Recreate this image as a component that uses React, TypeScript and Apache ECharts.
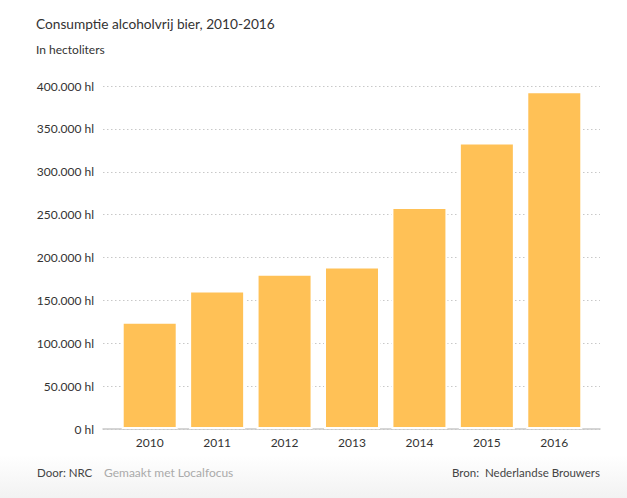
import React, { useEffect, useRef } from "react";
import * as echarts from "echarts";

const years = ["2010", "2011", "2012", "2013", "2014", "2015", "2016"];
const consumption = [125000, 161500, 181000, 189500, 259000, 334000, 394000];
const yTicks = [0, 50000, 100000, 150000, 200000, 250000, 300000, 350000, 400000];

const FONT = "Lato, 'Open Sans', sans-serif";

function fmt(v: number): string {
  if (v === 0) return "0 hl";
  const s = Math.round(v).toString().replace(/\B(?=(\d{3})+(?!\d))/g, ".");
  return s + " hl";
}

export default function App() {
  const ref = useRef<HTMLDivElement>(null);
  useEffect(() => {
    document.body.style.margin = "0";
    const chart = echarts.init(ref.current!, null, { renderer: "svg" });
    const top = 86;
    const bottom = 69;
    chart.setOption({
      animation: false,
      backgroundColor: "#ffffff",
      textStyle: { fontFamily: FONT },
      graphic: [
        {
          type: "rect",
          shape: { x: 0, y: 455, width: 627, height: 43 },
          style: {
            fill: new echarts.graphic.LinearGradient(0, 0, 0, 1, [
              { offset: 0, color: "#ffffff" },
              { offset: 1, color: "#f2f2f2" },
            ]),
          },
          z: -10,
        },
        {
          type: "text",
          left: 36,
          top: 16,
          style: { text: "Consumptie alcoholvrij bier, 2010-2016", fontSize: 13.7, fill: "#333", fontFamily: FONT },
        },
        {
          type: "text",
          left: 36,
          top: 43,
          style: { text: "In hectoliters", fontSize: 12, fill: "#333", fontFamily: FONT },
        },
        {
          type: "text",
          left: 37,
          top: 466,
          style: { text: "Door: NRC", fontSize: 11.5, fill: "#444", fontFamily: FONT },
        },
        {
          type: "text",
          left: 104,
          top: 466,
          style: { text: "Gemaakt met Localfocus", fontSize: 12, fill: "#aaa", fontFamily: FONT },
        },
        {
          type: "text",
          right: 27,
          top: 466,
          style: { text: "Bron:  Nederlandse Brouwers", fontSize: 11.5, fill: "#444", fontFamily: FONT },
        },
      ],
      grid: [
        { left: 103, right: 27, top, bottom },
        { left: 116, right: 39, top, bottom },
      ],
      xAxis: [
        {
          type: "category",
          gridIndex: 0,
          data: years,
          axisLine: { show: true, lineStyle: { color: "#c8c8c8", width: 1.5 } },
          axisTick: { show: false },
          axisLabel: { show: false },
        },
        {
          type: "category",
          gridIndex: 1,
          data: years,
          axisLine: { show: false },
          axisTick: { show: false },
          axisLabel: { color: "#333", fontSize: 12, margin: 7, fontFamily: FONT },
        },
      ],
      yAxis: [
        {
          type: "value",
          gridIndex: 0,
          min: 0,
          max: 400000,
          interval: 50000,
          axisLine: { show: false },
          axisTick: { show: false },
          axisLabel: {
            color: "#333",
            fontSize: 12,
            margin: 9,
            fontFamily: FONT,
            formatter: (v: number) => (yTicks.includes(v) ? fmt(v) : ""),
          },
          splitLine: { show: true, lineStyle: { color: "#c8c8c8", type: [1.5, 2.5], width: 1 } },
        },
        {
          type: "value",
          gridIndex: 1,
          min: 0,
          max: 400000,
          interval: 50000,
          axisLine: { show: false },
          axisTick: { show: false },
          axisLabel: { show: false },
          splitLine: { show: false },
        },
      ],
      series: [
        {
          type: "bar",
          xAxisIndex: 1,
          yAxisIndex: 1,
          data: consumption,
          barWidth: 56,
          itemStyle: { color: "#FFC156", borderColor: "#ffffff", borderWidth: 2 },
          z: 5,
        },
      ],
    });
    return () => chart.dispose();
  }, []);
  return <div ref={ref} style={{ position: "fixed", left: 0, top: 0, width: 627, height: 498 }} />;
}
